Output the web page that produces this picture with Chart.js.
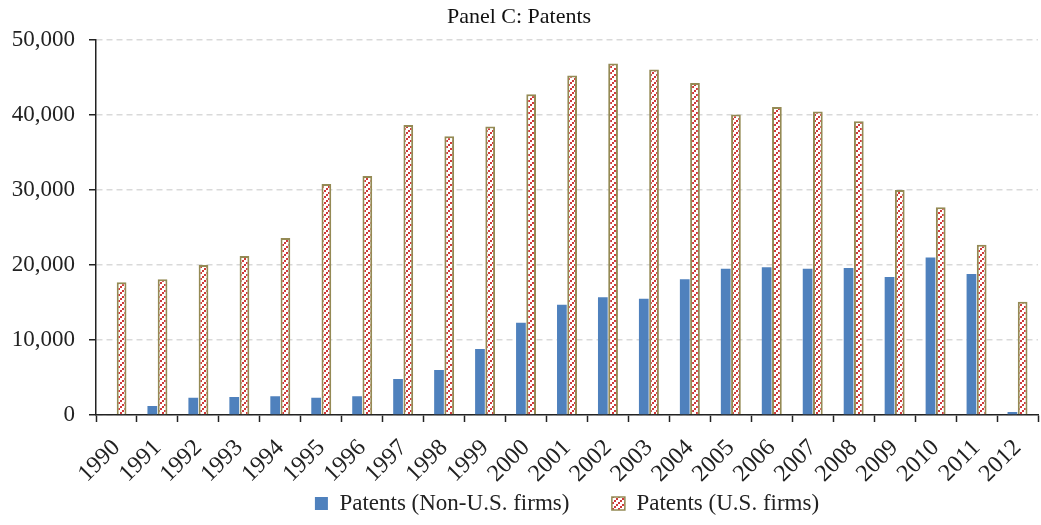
<!DOCTYPE html>
<html>
<head>
<meta charset="utf-8">
<script src="https://cdn.jsdelivr.net/npm/chart.js@4.4.1/dist/chart.umd.min.js"></script>
<style>
  html, body { margin: 0; padding: 0; background: #fff; }
  #wrap { width: 1041px; height: 525px; }
</style>
</head>
<body>
<div id="wrap"><canvas id="c" width="1041" height="525"></canvas></div>
<script>
const years = ['1990','1991','1992','1993','1994','1995','1996','1997','1998','1999','2000','2001',
               '2002','2003','2004','2005','2006','2007','2008','2009','2010','2011','2012'];
const nonUsPatents = [0, 1200, 2300, 2400, 2500, 2300, 2500, 4800, 6000, 8800, 12300, 14700,
                      15700, 15500, 18100, 19500, 19700, 19500, 19600, 18400, 21000, 18800, 400];
const usPatents = [17700, 18100, 20000, 21200, 23600, 30800, 31900, 38700, 37200, 38500, 42800, 45300,
                   46900, 46100, 44300, 40100, 41100, 40500, 39200, 30000, 27700, 22700, 15100];
const yTicks = [0, 10000, 20000, 30000, 40000, 50000];

// Red dotted diagonal hatch on white
function makeHatch() {
  const p = document.createElement('canvas');
  p.width = 6; p.height = 6;
  const g = p.getContext('2d');
  g.fillStyle = '#ffffff';
  g.fillRect(0, 0, 6, 6);
  g.fillStyle = '#d0393b';
  g.fillRect(0, 4, 2, 2);
  g.fillRect(2, 2, 2, 2);
  g.fillRect(4, 0, 2, 2);
  return g.createPattern(p, 'repeat');
}
const hatch = makeHatch();

const FONT = "'Liberation Serif', 'Times New Roman', serif";

// Center the legend row under the plot area rather than the whole canvas
const legendUnderPlot = {
  id: 'legendUnderPlot',
  afterLayout(chart) {
    const lg = chart.legend, ca = chart.chartArea;
    if (lg && ca) { lg.left = ca.left; lg.right = ca.right; }
  }
};

new Chart(document.getElementById('c'), {
  type: 'bar',
  data: {
    labels: years,
    datasets: [
      {
        label: 'Patents (Non-U.S. firms)',
        data: nonUsPatents,
        backgroundColor: '#4f81bd',
        borderColor: '#4f81bd',
        borderWidth: 0,
        categoryPercentage: 0.5,
        barPercentage: 0.95
      },
      {
        label: 'Patents (U.S. firms)',
        data: usPatents,
        backgroundColor: hatch,
        borderColor: '#948a54',
        borderWidth: 2,
        categoryPercentage: 0.5,
        barPercentage: 0.95
      }
    ]
  },
  options: {
    responsive: false,
    animation: false,
    layout: { padding: { left: 0, right: 3, top: 0, bottom: 0 } },
    plugins: {
      title: {
        display: true,
        text: 'Panel C: Patents',
        color: '#111',
        font: { family: FONT, size: 22, weight: 'normal', lineHeight: 1.1 },
        padding: { top: 5, bottom: 11 }
      },
      legend: {
        position: 'bottom',
        labels: {
          color: '#222',
          font: { family: FONT, size: 23 },
          boxWidth: 13,
          boxHeight: 13,
          padding: 8,
          generateLabels(chart) {
            const items = Chart.defaults.plugins.legend.labels.generateLabels(chart);
            items[0].lineWidth = 0;
            items[0].text = items[0].text + '      ';
            items[1].lineWidth = 1.5;
            return items;
          }
        }
      },
      tooltip: { enabled: false }
    },
    scales: {
      x: {
        offset: true,
        afterFit(axis) {
          axis.height = 69;
          axis.paddingLeft = 0;
          axis.paddingRight = 0;
        },
        grid: {
          display: true,
          drawOnChartArea: false,
          offset: true,
          color: '#222',
          tickLength: 7,
          tickWidth: 1.5
        },
        border: { color: '#222', width: 1.5 },
        ticks: {
          color: '#222',
          font: { family: FONT, size: 24 },
          maxRotation: 45,
          minRotation: 45,
          autoSkip: false,
          padding: 12
        }
      },
      y: {
        min: 0,
        max: 50000,
        afterBuildTicks(axis) { axis.ticks = yTicks.map(v => ({ value: v })); },
        afterFit(axis) { axis.width = 96; },
        grid: {
          color: '#d9d9d9',
          lineWidth: 1.5,
          tickLength: 7,
          tickColor: '#222',
          tickWidth: 1.5,
          tickBorderDash: [],
          drawTicks: true
        },
        border: { color: '#222', width: 1.5, dash: [6, 4] },
        ticks: {
          color: '#222',
          font: { family: FONT, size: 23 },
          padding: 14,
          callback: v => v.toLocaleString('en-US')
        }
      }
    }
  },
  plugins: [legendUnderPlot]
});
</script>
</body>
</html>
